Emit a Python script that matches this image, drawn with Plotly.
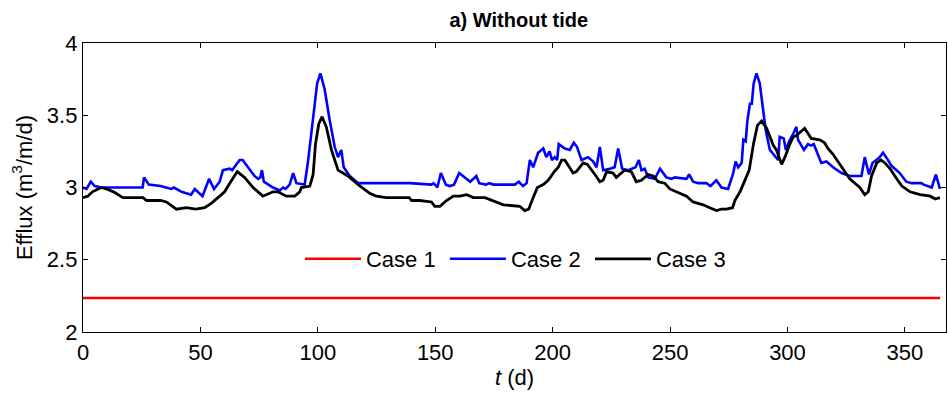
import plotly.graph_objects as go

# Case 1: constant efflux over the year
t1 = [0, 365]
q1 = [2.235, 2.235]

# Case 2
t2 = [0, 1.5, 3.3, 5, 8, 25.4, 26, 28, 33, 37.6, 38.7, 42, 46, 47.6, 50.9, 52.6, 53.7, 55.8,
      58.2, 59.6, 62.5, 63.5, 66.7, 68, 73, 74.6, 75.5, 76.2, 77, 80.9, 83.8, 85.2, 86.3, 88,
      89.5, 90.9, 94.4, 95.9, 98, 99.7, 101.1, 102.9, 105, 107.2, 108.6, 110, 111, 113.6,
      117.2, 139.2, 148.4, 149.3, 150.9, 152.4, 154.5, 156.2, 158, 160.2, 164.9, 167.5,
      168.7, 171.6, 173, 174.9, 183.9, 185.6, 187.4, 188.9, 190.3, 191.7, 193.8, 196, 197.3,
      198.7, 199.7, 200.9, 201.9, 202.6, 205.2, 207.3, 209, 210.4, 212.3, 215.1, 217.3,
      218.7, 220.1, 221.5, 224.4, 226.4, 227.9, 229.6, 232.2, 235.3, 236.7, 237.8, 239.2,
      240.7, 243.5, 245.7, 248.4, 250.6, 252, 257, 258.1, 259.8, 262, 265.5, 267.2, 269.7,
      271.9, 274.7, 276.9, 277.9, 279, 280.5, 281.2, 282.2, 282.9, 284, 284.8, 285.6, 286.8,
      288.2, 289.6, 290.8, 292.5, 294.6, 296, 296.7, 298.4, 299.3, 301, 302.4, 303.8, 304.5,
      307, 308.7, 310, 311.2, 314.4, 316.6, 319.4, 323, 326.5, 331.5, 332.9, 334.7, 336.2,
      339.3, 340.7, 342.4, 344.3, 347.8, 350.6, 352.8, 357, 358, 361.4, 363.2, 364.9]
q2 = [3.00, 2.99, 3.04, 3.01, 3.00, 3.00, 3.07, 3.02, 3.01, 2.99, 3.00, 2.97, 2.95, 2.99, 2.94,
      3.01, 3.06, 2.99, 3.04, 3.12, 3.13, 3.12, 3.19, 3.19, 3.08, 3.06, 3.07, 3.12, 3.04, 3.00,
      2.98, 3.00, 2.99, 3.02, 3.10, 3.03, 3.02, 3.19, 3.46, 3.72, 3.79, 3.68, 3.47, 3.28, 3.21,
      3.26, 3.14, 3.08, 3.03, 3.03, 3.02, 3.03, 3.00, 3.10, 3.02, 3.01, 3.02, 3.10, 3.04, 3.08,
      3.03, 3.02, 3.03, 3.02, 3.02, 3.04, 3.01, 3.03, 3.19, 3.14, 3.24, 3.27, 3.21, 3.25, 3.19,
      3.21, 3.19, 3.30, 3.27, 3.26, 3.31, 3.28, 3.19, 3.21, 3.18, 3.14, 3.28, 3.12, 3.13, 3.14,
      3.27, 3.13, 3.12, 3.14, 3.19, 3.12, 3.13, 3.07, 3.06, 3.13, 3.07, 3.06, 3.07, 3.06, 3.09,
      3.04, 3.03, 3.03, 3.01, 3.05, 3.00, 2.99, 3.10, 3.18, 3.14, 3.17, 3.33, 3.32, 3.46, 3.58,
      3.58, 3.72, 3.79, 3.72, 3.54, 3.39, 3.26, 3.22, 3.19, 3.35, 3.34, 3.26, 3.33, 3.37, 3.42,
      3.33, 3.26, 3.30, 3.29, 3.30, 3.17, 3.18, 3.14, 3.10, 3.08, 3.08, 3.21, 3.09, 3.17, 3.21,
      3.24, 3.20, 3.15, 3.10, 3.04, 3.03, 3.03, 3.02, 3.00, 3.09, 2.99]

# Case 3
t3 = [0, 2, 4, 7.8, 10, 13, 17, 25.6, 27, 33, 35.5, 39.8, 44, 48, 51.8, 54.6, 58.2, 60.3, 62.5,
      65.7, 68.8, 72.4, 76.6, 80.9, 83, 86.6, 90.2, 92.3, 93, 96.6, 98, 99, 100.4, 101.8, 103.6,
      105.8, 108.6, 112.8, 117.2, 122.1, 124.9, 129.2, 138.9, 139.9, 143.4, 148.4, 149.8, 152,
      154.8, 157.7, 160.5, 163.4, 166.2, 171.2, 179, 183.9, 186, 188.1, 189.8, 191.7, 193.5,
      196, 198.1, 200.7, 202.4, 203.8, 205.2, 208.7, 210.1, 213, 214.8, 218, 220.1, 221.5, 223,
      225.7, 227.1, 230.6, 233.5, 235.6, 237.8, 240.7, 242.8, 244.9, 247.7, 249.9, 254.1, 257,
      259.8, 264.1, 266.9, 269.7, 271.9, 274, 276.6, 277.6, 279.8, 281.9, 283.7, 285.5, 287.2,
      289, 291.1, 294, 295.3, 297.5, 298.9, 301, 302.4, 303.8, 305.2, 307.3, 310.1, 313.7,
      315.8, 317.2, 319.4, 323, 326.5, 330.8, 332.9, 334.4, 335.8, 338, 339.8, 341.5, 343.7,
      346.5, 348.7, 352.2, 356.5, 360.8, 362.9, 364.9]
q3 = [2.93, 2.94, 2.97, 3.00, 2.99, 2.97, 2.93, 2.93, 2.91, 2.91, 2.90, 2.85, 2.86, 2.85, 2.86,
      2.89, 2.94, 2.97, 3.03, 3.11, 3.07, 3.00, 2.94, 2.97, 2.97, 2.94, 2.94, 2.97, 3.00, 3.01,
      3.09, 3.30, 3.44, 3.49, 3.42, 3.26, 3.12, 3.08, 3.02, 2.96, 2.94, 2.93, 2.93, 2.91, 2.91,
      2.90, 2.87, 2.87, 2.91, 2.94, 2.94, 2.95, 2.93, 2.93, 2.88, 2.87, 2.87, 2.84, 2.85, 2.93,
      3.00, 3.02, 3.05, 3.11, 3.14, 3.19, 3.19, 3.10, 3.11, 3.17, 3.16, 3.09, 3.04, 3.05, 3.11,
      3.10, 3.07, 3.12, 3.11, 3.04, 3.05, 3.09, 3.08, 3.04, 3.03, 2.99, 2.96, 2.94, 2.90, 2.88,
      2.86, 2.84, 2.85, 2.85, 2.86, 2.91, 2.97, 3.05, 3.12, 3.30, 3.43, 3.46, 3.41, 3.29, 3.26,
      3.16, 3.21, 3.30, 3.35, 3.36, 3.38, 3.41, 3.34, 3.33, 3.31, 3.27, 3.23, 3.14, 3.06, 3.00,
      2.95, 2.97, 3.08, 3.17, 3.19, 3.17, 3.13, 3.06, 3.01, 2.97, 2.95, 2.94, 2.92, 2.93]

x_ticks = [0, 50, 100, 150, 200, 250, 300, 350]
y_ticks = [2, 2.5, 3, 3.5, 4]

FONT = "Arial, 'Liberation Sans', sans-serif"

fig = go.Figure()
fig.add_trace(go.Scatter(x=t1, y=q1, mode="lines", name="Case 1",
                         line=dict(color="#ff0000", width=2.6)))
fig.add_trace(go.Scatter(x=t2, y=q2, mode="lines", name="Case 2",
                         line=dict(color="#0000ff", width=2.6)))
fig.add_trace(go.Scatter(x=t3, y=q3, mode="lines", name="Case 3",
                         line=dict(color="#000000", width=2.8)))

axis_common = dict(
    showgrid=False, zeroline=False, showline=True, linecolor="#000000", linewidth=1.3,
    mirror="ticks", ticks="inside", ticklen=5, tickwidth=1, tickcolor="#000000",
    tickfont=dict(family=FONT, size=22, color="#000000"),
)

fig.update_layout(
    width=948, height=396,
    margin=dict(l=83, r=2, t=43, b=64),
    paper_bgcolor="white", plot_bgcolor="white",
    font=dict(family=FONT, color="#000000"),
    title=dict(text="<b>a) Without tide</b>", x=0.505, xref="paper", xanchor="center",
               y=0.95, yref="container", yanchor="middle",
               font=dict(family=FONT, size=20, color="#000000")),
    xaxis=dict(range=[0, 367.5], tickvals=x_ticks,
               title=dict(text="<i>t</i> (d)", standoff=6, font=dict(family=FONT, size=22)),
               **axis_common),
    yaxis=dict(range=[2, 4], tickvals=y_ticks, ticktext=["2", "2.5", "3", "3.5", "4"],
               title=dict(text="Efflux (m<sup>3</sup>/m/d)", standoff=8,
                          font=dict(family=FONT, size=22)),
               **axis_common),
    legend=dict(orientation="h", x=0.2514, xanchor="left", y=0.2526, yanchor="middle",
                bgcolor="rgba(0,0,0,0)", font=dict(family=FONT, size=22, color="#000000"),
                entrywidth=74, itemwidth=56, tracegroupgap=0),
    showlegend=True,
)

fig.write_html("out.html")
